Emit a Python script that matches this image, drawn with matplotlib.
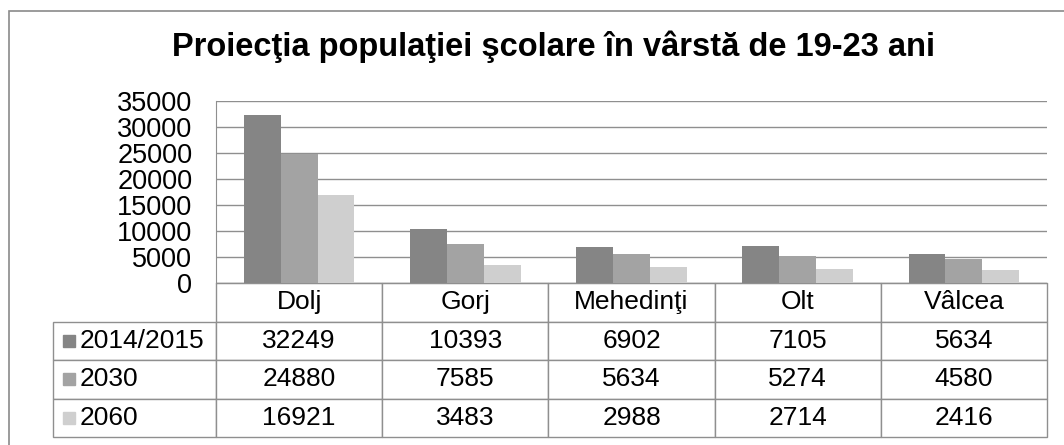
import matplotlib
matplotlib.use('Agg')
import matplotlib.pyplot as plt
import numpy as np
from matplotlib.patches import Rectangle

plt.rcParams['font.family'] = ['Liberation Sans', 'DejaVu Sans']

title = 'Proiecţia populaţiei şcolare în vârstă de 19-23 ani'
judete = ['Dolj', 'Gorj', 'Mehedinţi', 'Olt', 'Vâlcea']
serii = ['2014/2015', '2030', '2060']
v2014 = [32249, 10393, 6902, 7105, 5634]
v2030 = [24880, 7585, 5634, 5274, 4580]
v2060 = [16921, 3483, 2988, 2714, 2416]
culori = ['#858585', '#a3a3a3', '#cfcfcf']

W, H = 1064, 445
fig = plt.figure(figsize=(W / 100, H / 100), dpi=100)
fig.patch.set_facecolor('white')

# outer chart border (runs off the right/bottom edge like the source)
fig.add_artist(Rectangle((9 / W, -0.1), 1.2, 1 - 11 / H + 0.1, transform=fig.transFigure,
                         fill=False, edgecolor='#8a8a8a', lw=1.2))

fig.text(553 / W, 1 - 47 / H, title, ha='center', va='center', fontsize=23.5, fontweight='bold')

# plot area in pixels
px0, px1, ptop, pbot = 216, 1047, 101, 283
ax = fig.add_axes([px0 / W, 1 - pbot / H, (px1 - px0) / W, (pbot - ptop) / H])

x = np.arange(len(judete))
w = 0.222
for i, vals in enumerate([v2014, v2030, v2060]):
    ax.bar(x + (i - 1) * w, vals, w, color=culori[i], zorder=3)

ax.set_xlim(-0.5, len(judete) - 0.5)
ax.set_ylim(0, 35000)
ax.set_yticks(np.arange(0, 35001, 5000))
ax.set_xticks([])
ax.tick_params(axis='y', length=0, pad=17, labelsize=19.5)
ax.yaxis.grid(True, color='#8f8f8f', lw=1, zorder=0)
for s in ['top', 'right']:
    ax.spines[s].set_visible(False)
for s in ['left', 'bottom']:
    ax.spines[s].set_color('#8f8f8f')

# data table under the plot
tx0, tbot = 53, 437
rows = [[serii[k]] + [str(v) for v in vals] for k, vals in enumerate([v2014, v2030, v2060])]
lbl_w = px0 - tx0
col_w = (px1 - px0) / len(judete)
widths = [lbl_w] + [col_w] * len(judete)
tot = sum(widths)
bbox = [(tx0 - px0) / (px1 - px0), -(tbot - pbot) / (pbot - ptop),
        (px1 - tx0) / (px1 - px0), (tbot - pbot) / (pbot - ptop)]
tab = ax.table(cellText=rows, colLabels=[''] + judete, colWidths=[c / tot for c in widths],
               cellLoc='center', bbox=bbox)
tab.auto_set_font_size(False)
tab.set_fontsize(19)
for (r, c), cell in tab.get_celld().items():
    cell.set_edgecolor('#8f8f8f')
    cell.set_linewidth(1)
    if r == 0 and c == 0:
        cell.visible_edges = ''
    if r > 0 and c == 0:
        cell._loc = 'left'
        cell.PAD = 0.165
        cell.get_text().set_ha('left')

# legend keys in the row-label column
row_h = (tbot - pbot) / (len(serii) + 1)
for k in range(len(serii)):
    yc = pbot + row_h * (k + 1.5)
    fig.add_artist(Rectangle((63 / W, 1 - (yc + 6) / H), 12 / W, 12 / H,
                             transform=fig.transFigure, color=culori[k]))

fig.savefig('out.png', dpi=100)
